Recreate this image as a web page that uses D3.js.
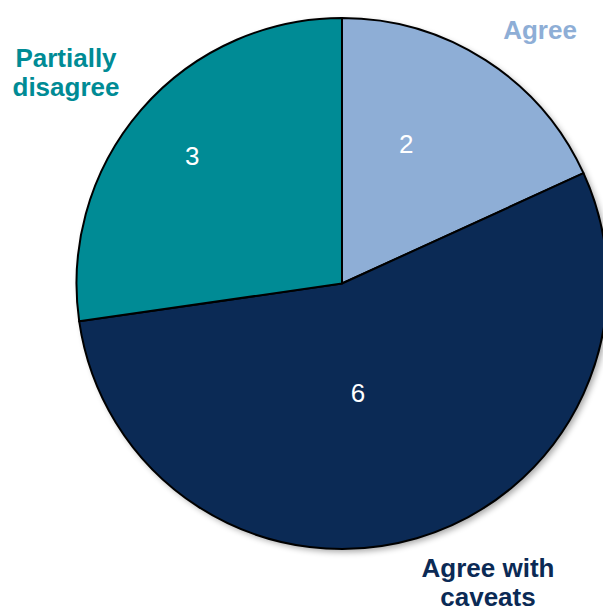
<!DOCTYPE html>
<html><head><meta charset="utf-8">
<script src="https://cdn.jsdelivr.net/npm/d3@7"></script>
<style>html,body{margin:0;padding:0;background:#fff;}svg{display:block;}</style>
</head><body>
<script>
const categories = ["Agree", "Agree with caveats", "Partially disagree"];
const values = [2, 6, 3];
const colors = ["#8eaed6", "#0b2a55", "#008b95"];

const W = 603, H = 610;
const cx = 342, cy = 283.5, R = 265.5;
const svg = d3.select("body").append("svg").attr("width", W).attr("height", H);

const defs = svg.append("defs");
const f = defs.append("filter").attr("id","sh").attr("x","-20%").attr("y","-20%").attr("width","140%").attr("height","140%");
f.append("feGaussianBlur").attr("in","SourceAlpha").attr("stdDeviation",3).attr("result","b");
f.append("feOffset").attr("in","b").attr("dx",3).attr("dy",3).attr("result","o");
f.append("feComponentTransfer").attr("in","o").attr("result","o2").append("feFuncA").attr("type","linear").attr("slope",0.35);
const m = f.append("feMerge"); m.append("feMergeNode").attr("in","o2"); m.append("feMergeNode").attr("in","SourceGraphic");

const data = categories.map((c,i)=>({cat:c, value:values[i], color:colors[i]}));
const pie = d3.pie().value(d=>d.value).sort(null);
const arc = d3.arc().innerRadius(0).outerRadius(R);
const arcs = pie(data);

const g = svg.append("g").attr("transform",`translate(${cx},${cy})`);
g.append("circle").attr("r",R).attr("fill","#fff").attr("filter","url(#sh)");
g.selectAll("path.s").data(arcs).enter().append("path")
  .attr("d",arc).attr("fill",d=>d.data.color)
  .attr("stroke","#000").attr("stroke-width",2).attr("stroke-linejoin","round");

// value labels: polar placement (angle offset from slice middle, radius)
const valueLabelPolar = [{da:-8.1, r:154}, {da:8, r:110}, {da:-0.4, r:197}];
g.selectAll("text.v").data(arcs).enter().append("text")
  .attr("x",(d,i)=>{const a=((d.startAngle+d.endAngle)/2)+valueLabelPolar[i].da*Math.PI/180; return Math.sin(a)*valueLabelPolar[i].r;})
  .attr("y",(d,i)=>{const a=((d.startAngle+d.endAngle)/2)+valueLabelPolar[i].da*Math.PI/180; return -Math.cos(a)*valueLabelPolar[i].r;})
  .attr("dy","0.36em")
  .attr("text-anchor","middle").attr("fill","#fff")
  .attr("font-family","'Liberation Sans', Arial, sans-serif").attr("font-size",26)
  .text(d=>d.data.value);

// category labels
const catLabels = [
  {lines:["Agree"], x:540, y:39},
  {lines:["Agree with","caveats"], x:488, y:577},
  {lines:["Partially","disagree"], x:66, y:67}
];
catLabels.forEach((l,i)=>{
  const t = svg.append("text").attr("text-anchor","middle")
    .attr("font-family","'Liberation Sans', Arial, sans-serif").attr("font-weight","bold")
    .attr("font-size",26).attr("fill",colors[i]);
  l.lines.forEach((s,j)=>t.append("tspan").attr("x",l.x).attr("y",l.y+j*29).text(s));
});
</script>
</body></html>
